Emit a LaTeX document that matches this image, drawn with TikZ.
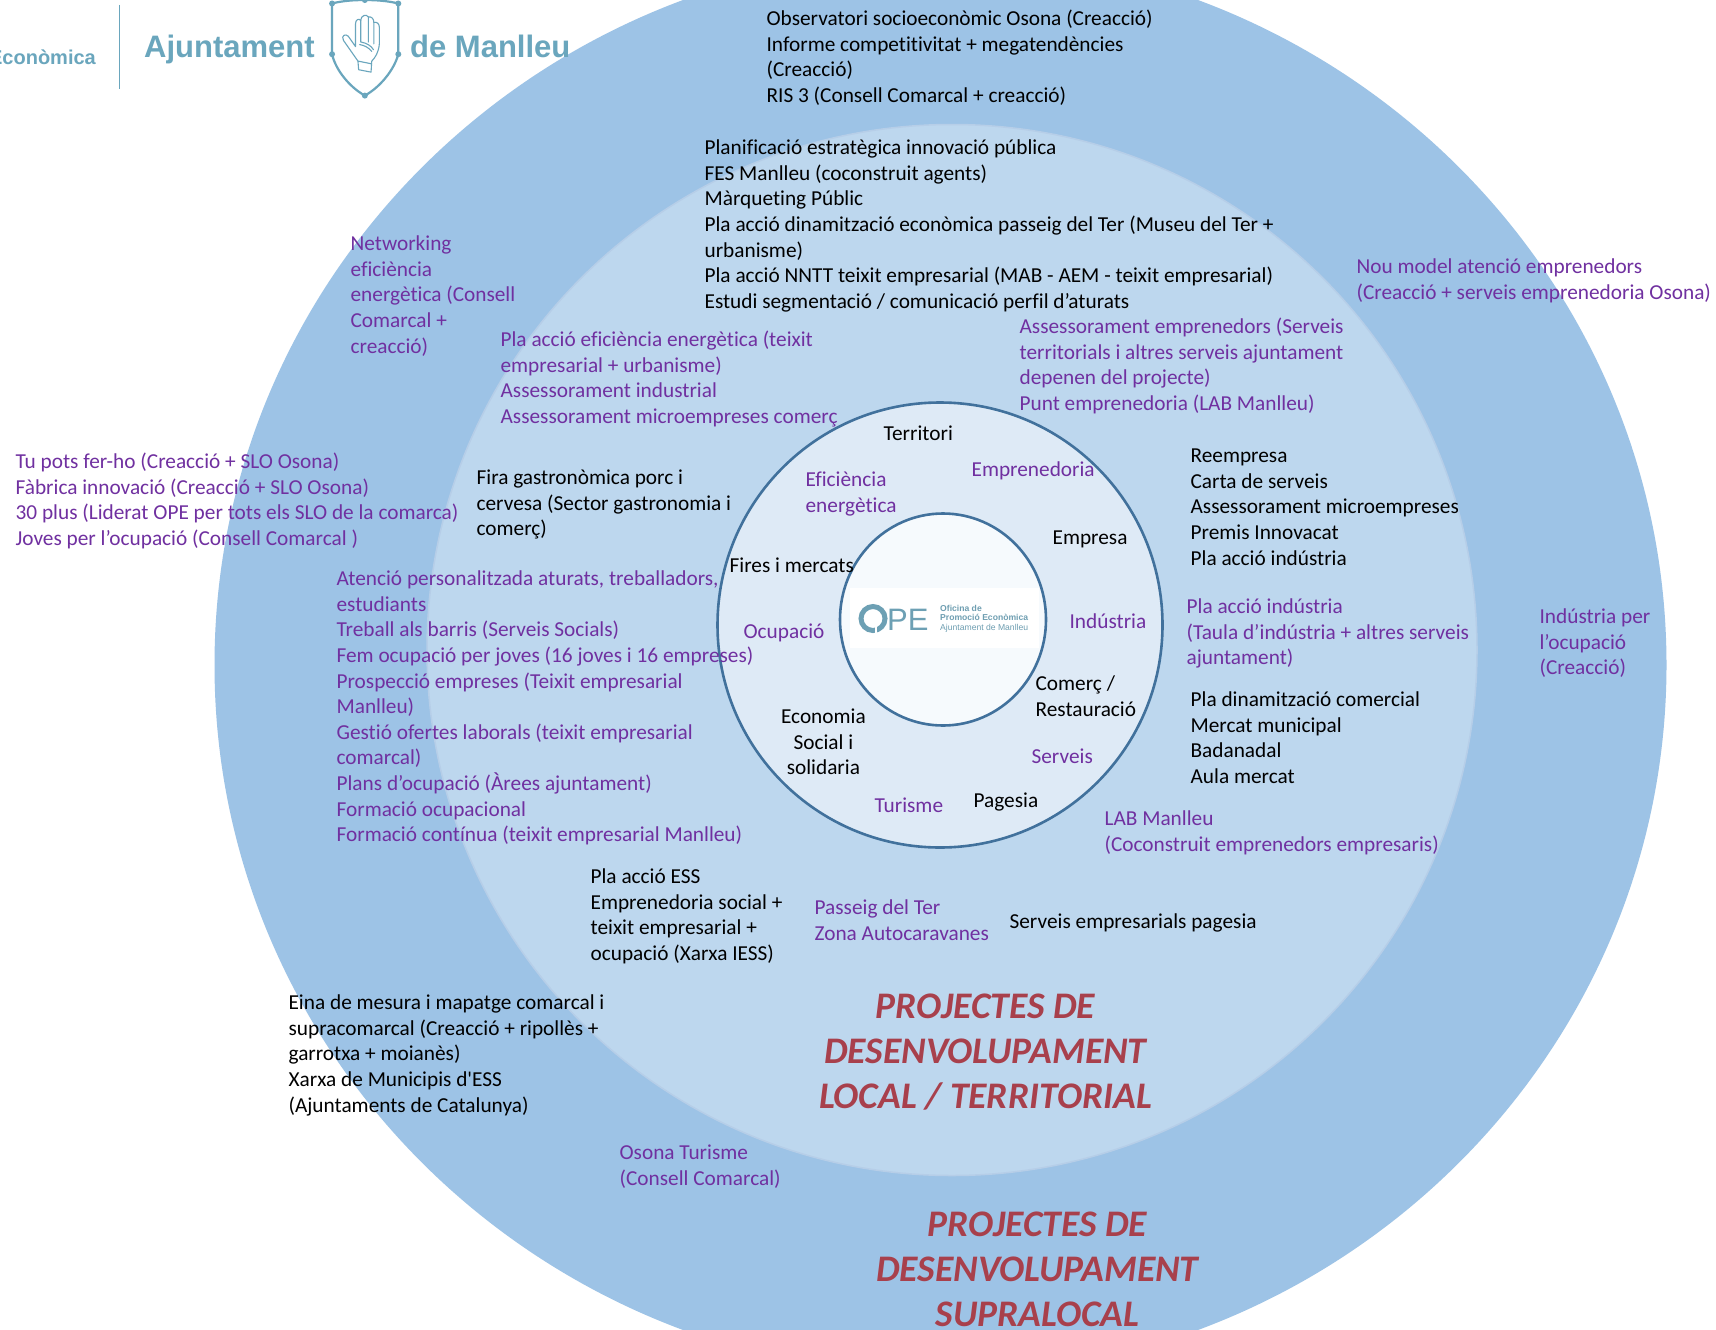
\documentclass[tikz,border=0pt]{standalone}
\usepackage{fontspec}
\setmainfont[Ligatures=CommonOff]{Carlito}
\newfontfamily\plainf{Carlito}
\newfontfamily\logofont{Liberation Sans}
\definecolor{ringA}{HTML}{9DC3E6}
\definecolor{ringB}{HTML}{BDD7EE}
\definecolor{ringBedge}{HTML}{B6CEE8}
\definecolor{ringC}{HTML}{DEEAF6}
\definecolor{ringD}{HTML}{F6FAFD}
\definecolor{edgeblue}{HTML}{41719C}
\definecolor{purpletxt}{HTML}{7030A0}
\definecolor{redtxt}{HTML}{A8404C}
\definecolor{logoblue}{HTML}{6AA6BD}
\tikzset{
  x=1pt,y=-1pt,
  lbl/.style={anchor=north west,inner sep=0pt,align=left,font=\fontsize{21.3}{25.6}\selectfont},
  blk/.style={lbl,text=black},
  pur/.style={lbl,text=purpletxt},
  ctr/.style={lbl,anchor=north,align=center},
  bigred/.style={anchor=north,inner sep=0pt,align=center,text=redtxt,font=\fontsize{37.5}{44.8}\selectfont\bfseries\itshape},
  logotext/.style={inner sep=0pt,text=logoblue,font=\fontsize{31}{36}\logofont\bfseries},
  logoline/.style={draw=logoblue,line width=1.6pt,line cap=round,line join=round},
  handline/.style={draw=logoblue,line width=1.1pt,line cap=round,line join=round},
  ring/.style={draw=edgeblue,line width=2.6pt},
}
\begin{document}
\begin{tikzpicture}
\useasboundingbox (0,0) rectangle (1716,1330);
\fill[white] (0,0) rectangle (1716,1330);
% rings
\fill[ringA] (940.5,665) ellipse [x radius=726pt,y radius=711pt];
\filldraw[fill=ringB,draw=ringBedge,line width=1.5pt] (952,650) ellipse [x radius=525pt,y radius=525.5pt];
\filldraw[ring,fill=ringC] (940,625) circle [radius=222.5pt];
\filldraw[ring,fill=ringD] (943,619.5) ellipse [x radius=103pt,y radius=106pt];
% OPE logo
\fill[white] (850,588) rectangle (1039,648);
\draw[logoblue!85!gray,line width=5pt] (873,618.5) circle [radius=12pt];
\fill[white] (875,626) rectangle (877,636);
\node (opeletters) [anchor=base west,inner sep=0pt,text=logoblue!85!gray,font=\fontsize{31}{31}\logofont] at (887,630) {PE};
\node (opetext) [anchor=north west,inner sep=0pt,align=left,text=logoblue!80!gray,font=\fontsize{8.6}{9.5}\logofont] at (940,605) {\textbf{Oficina de}\\\textbf{Promoció Econòmica}\\Ajuntament de Manlleu};
% header logo
\node (econ) [logotext,anchor=base east,font=\fontsize{20}{24}\logofont\bfseries] at (96,65) {Econòmica};
\coordinate (sepA) at (119.5,5);
\coordinate (sepB) at (119.5,89);
\draw[logoblue,line width=1.2pt] (sepA) -- (sepB);
\node (ajunt) [logotext,anchor=base west] at (144,58) {Ajuntament};
\node (manlleu) [logotext,anchor=base west] at (410,58) {de Manlleu};
\begin{scope}[shift={(320,-1)},x=0.345pt,y=-0.345pt]
  \draw[logoline,line width=2.2pt] (35,13) .. controls (65,5) and (100,3) .. (130,3) .. controls (160,3) and (195,5) .. (227,13) -- (227,160) .. controls (215,205) and (175,255) .. (130,280) .. controls (85,255) and (45,205) .. (35,160) -- cycle;
  \fill[logoblue] (35,13) circle [radius=3pt] (130,3) circle [radius=3pt] (227,13) circle [radius=3pt] (35,160) circle [radius=3pt] (227,160) circle [radius=3pt] (130,280) circle [radius=3pt];
  \draw[handline] (110,180) -- (68,120) .. controls (60,105) and (75,100) .. (82,108) -- (103,138) -- (103,72) .. controls (103,60) and (112,55) .. (118,62) .. controls (118,48) and (135,42) .. (140,52) .. controls (150,50) and (156,58) .. (156,68) .. controls (165,65) and (172,72) .. (172,82) -- (172,130) .. controls (170,155) and (160,170) .. (150,180) -- (148,212) -- (112,205) -- (110,180) -- (150,188);
  \draw[handline] (118,62) -- (118,125) (140,52) -- (140,125) (156,68) -- (156,130) (115,132) .. controls (130,135) and (140,140) .. (150,152) (120,125) .. controls (135,128) and (148,135) .. (155,147);
\end{scope}
% texts
\begin{scope}[yshift=-1.5pt,xshift=0.4pt]
\node (t01) [blk] at (766,6) {\strut Observatori socioeconòmic Osona (Creacció)\\Informe competitivitat + megatendències\\(Creacció)\\RIS 3 (Consell Comarcal + creacció)};
\node (t02) [blk] at (704,135) {\strut Planificació estratègica innovació pública\\FES Manlleu (coconstruit agents)\\Màrqueting Públic\\Pla acció dinamització econòmica passeig del Ter (Museu del Ter +\\urbanisme)\\Pla acció NNTT teixit empresarial (MAB - AEM - teixit empresarial)\\Estudi segmentació / comunicació perfil d’aturats};
\node (t03) [pur] at (1356,254) {\strut Nou model atenció emprenedors\\(Creacció + serveis emprenedoria Osona)};
\node (t04) [pur] at (350,231) {\strut Networking\\eficiència\\energètica (Consell\\Comarcal +\\creacció)};
\node (t05) [pur] at (500,327) {\strut Pla acció eficiència energètica (teixit\\empresarial + urbanisme)\\Assessorament industrial\\Assessorament microempreses comerç};
\node (t06) [pur] at (1019,314) {\strut Assessorament emprenedors (Serveis\\territorials i altres serveis ajuntament\\depenen del projecte)\\Punt emprenedoria (LAB Manlleu)};
\node (t07) [blk] at (883,421) {\strut Territori};
\node (t08) [pur] at (971,457) {\strut Emprenedoria};
\node (t09) [pur] at (805,467) {\strut Eficiència\\energètica};
\node (t10) [blk] at (1052,525) {\strut Empresa};
\node (t11) [blk] at (1190,443) {\strut Reempresa\\Carta de serveis\\Assessorament microempreses\\Premis Innovacat\\Pla acció indústria};
\node (t12) [pur] at (15,449) {\strut Tu pots fer-ho (Creacció + SLO Osona)\\Fàbrica innovació (Creacció + SLO Osona)\\30 plus (Liderat OPE per tots els SLO de la comarca)\\Joves per l’ocupació (Consell Comarcal )};
\node (t13) [blk] at (476,465) {\strut Fira gastronòmica porc i\\cervesa (Sector gastronomia i\\comerç)};
\node (t14) [blk] at (729,553) {\strut Fires i mercats};
\node (t15) [pur] at (336,566) {\strut Atenció personalitzada aturats, treballadors,\\estudiants\\Treball als barris (Serveis Socials)\\Fem ocupació per joves (16 joves i 16 empreses)\\Prospecció empreses (Teixit empresarial\\Manlleu)\\Gestió ofertes laborals (teixit empresarial\\comarcal)\\Plans d’ocupació (Àrees ajuntament)\\Formació ocupacional\\Formació contínua (teixit empresarial Manlleu)};
\node (t16) [pur] at (1069,609) {\strut Indústria};
\node (t17) [pur] at (743,619) {\strut Ocupació};
\node (t18) [pur] at (1186,594) {\strut Pla acció indústria\\(Taula d’indústria + altres serveis\\ajuntament)};
\node (t19) [pur] at (1539,604) {\strut Indústria per\\l’ocupació\\(Creacció)};
\node (t20) [blk] at (1035,671) {\strut Comerç /\\Restauració};
\node (t21) [blk] at (1190,687) {\strut Pla dinamització comercial\\Mercat municipal\\Badanadal\\Aula mercat};
\node (t22) [ctr,text=black] at (823,704) {\strut Economia\\Social i\\solidaria};
\node (t23) [pur] at (1031,744) {\strut Serveis};
\node (t24) [blk] at (973,788) {\strut Pagesia};
\node (t25) [pur] at (874,793) {\strut Turisme};
\node (t26) [pur] at (1104,806) {\strut LAB Manlleu\\(Coconstruit emprenedors empresaris)};
\node (t27) [blk] at (590,864) {\strut Pla acció ESS\\Emprenedoria social +\\teixit empresarial +\\ocupació (Xarxa IESS)};
\node (t28) [pur] at (814,895) {\strut Passeig del Ter\\Zona Autocaravanes};
\node (t29) [blk] at (1009,909) {\strut Serveis empresarials pagesia};
\node (t30) [blk] at (288,990) {\strut Eina de mesura i mapatge comarcal i\\supracomarcal (Creacció + ripollès +\\garrotxa + moianès)\\Xarxa de Municipis d{\plainf '}ESS\\(Ajuntaments de Catalunya)};
\node (t31) [pur] at (619,1140) {\strut Osona Turisme\\(Consell Comarcal)};
\node (t32) [bigred] at (985,985.5) {\strut PROJECTES DE\\DESENVOLUPAMENT\\LOCAL / TERRITORIAL};
\node (t33) [bigred] at (1037,1203.5) {\strut PROJECTES DE\\DESENVOLUPAMENT\\SUPRALOCAL};
\end{scope}
\end{tikzpicture}
\end{document}
